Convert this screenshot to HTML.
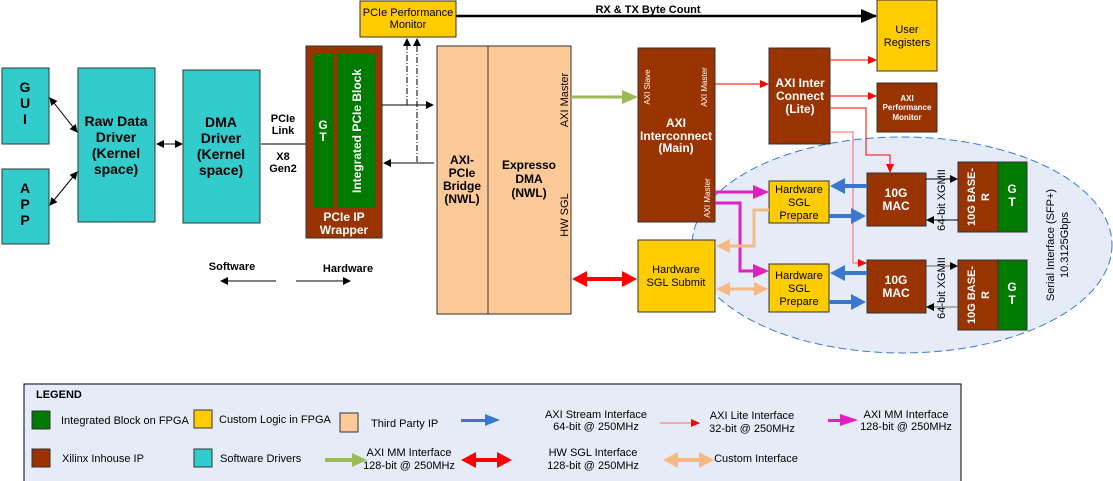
<!DOCTYPE html>
<html><head><meta charset="utf-8"><style>
html,body{margin:0;padding:0;background:#fff;}
svg{display:block;font-family:"Liberation Sans",Arial,sans-serif;}
</style></head><body>
<svg width="1113" height="481" viewBox="0 0 1113 481" xmlns="http://www.w3.org/2000/svg">
<defs>
<marker id="ak" markerWidth="8" markerHeight="8" refX="7" refY="4" orient="auto" markerUnits="userSpaceOnUse"><path d="M0,0 L8,4 L0,8 z" fill="#000"/></marker>
<marker id="aks" markerWidth="8" markerHeight="8" refX="1" refY="4" orient="auto" markerUnits="userSpaceOnUse"><path d="M8,0 L0,4 L8,8 z" fill="#000"/></marker>
<marker id="akb" markerWidth="16" markerHeight="14" refX="15" refY="7" orient="auto" markerUnits="userSpaceOnUse"><path d="M0,0 L16,7 L0,14 z" fill="#000"/></marker>
<marker id="ar" markerWidth="9" markerHeight="8" refX="8" refY="4" orient="auto" markerUnits="userSpaceOnUse"><path d="M0,0 L9,4 L0,8 z" fill="#f00"/></marker>
</defs>

<ellipse cx="902" cy="245" rx="210" ry="108" fill="#e6ecf7" stroke="#3a78d8" stroke-dasharray="8,4" stroke-width="1"/>

<g stroke="#333" fill="#33cccc">
<rect x="2" y="68" width="47" height="76"/>
<rect x="2" y="169" width="47" height="75"/>
<rect x="78" y="68" width="77" height="154"/>
<rect x="183" y="70" width="77" height="153"/>
</g>
<g font-weight="bold" font-size="14" fill="#000" text-anchor="middle">
<text x="25" y="92">G</text><text x="25" y="108">U</text><text x="25" y="124">I</text>
<text x="25" y="193">A</text><text x="25" y="209">P</text><text x="25" y="225">P</text>
<text x="116" y="126">Raw Data</text><text x="116" y="142">Driver</text><text x="116" y="158">(Kernel</text><text x="116" y="174">space)</text>
<text x="221" y="127">DMA</text><text x="221" y="143">Driver</text><text x="221" y="159">(Kernel</text><text x="221" y="175">space)</text>
</g>
<g stroke="#000" stroke-width="1" fill="none">
<line x1="50" y1="98" x2="77" y2="132" marker-start="url(#aks)" marker-end="url(#ak)"/>
<line x1="50" y1="205" x2="77" y2="172" marker-start="url(#aks)" marker-end="url(#ak)"/>
<line x1="157" y1="144" x2="182" y2="144" marker-start="url(#aks)" marker-end="url(#ak)"/>
<line x1="261" y1="144" x2="306" y2="144"/>
</g>
<g font-weight="bold" font-size="11" text-anchor="middle">
<text x="283" y="122">PCIe</text><text x="283" y="134">Link</text>
<text x="283" y="160">X8</text><text x="283" y="172">Gen2</text>
<text x="232" y="270">Software</text><text x="348" y="272">Hardware</text>
</g>
<line x1="276" y1="281" x2="221" y2="281" stroke="#000" marker-end="url(#ak)"/>
<line x1="296" y1="281" x2="350" y2="281" stroke="#000" marker-end="url(#ak)"/>

<rect x="306" y="46" width="76" height="192" fill="#993300" stroke="#333"/>
<rect x="313" y="54" width="20" height="154" fill="#007a00"/>
<rect x="337" y="54" width="39" height="154" fill="#007a00"/>
<g fill="#fff" font-weight="bold" font-size="12" text-anchor="middle">
<text x="323" y="129">G</text><text x="323" y="141">T</text>
<text x="344" y="221">PCIe IP</text><text x="344" y="234">Wrapper</text>
<text transform="translate(361,131) rotate(-90)" font-size="12">Integrated PCIe Block</text>
</g>

<rect x="360" y="1" width="96" height="36" fill="#ffcc00" stroke="#333"/>
<text x="408" y="16" font-size="11" text-anchor="middle">PCIe Performance</text>
<text x="408" y="28" font-size="11" text-anchor="middle">Monitor</text>
<g stroke="#000" stroke-dasharray="6,2,1,2" fill="none">
<line x1="407" y1="105" x2="407" y2="39" marker-end="url(#ak)"/>
<line x1="417" y1="162" x2="417" y2="39" marker-end="url(#ak)"/>
</g>
<line x1="382" y1="105" x2="433" y2="105" stroke="#000" marker-end="url(#ak)"/>
<line x1="434" y1="163" x2="384" y2="163" stroke="#000" marker-end="url(#ak)"/>
<line x1="456" y1="16" x2="876" y2="16" stroke="#000" stroke-width="2.5" marker-end="url(#akb)"/>
<text x="648" y="13" font-size="11" font-weight="bold" text-anchor="middle">RX &amp; TX Byte Count</text>

<rect x="437" y="46" width="51" height="268" fill="#fcc998" stroke="#333"/>
<rect x="488" y="46" width="83" height="268" fill="#fcc998" stroke="#333"/>
<g font-weight="bold" font-size="12" text-anchor="middle">
<text x="462" y="164">AXI-</text><text x="462" y="177">PCIe</text><text x="462" y="190">Bridge</text><text x="462" y="203">(NWL)</text>
<text x="529" y="169">Expresso</text><text x="529" y="183">DMA</text><text x="529" y="197">(NWL)</text>
</g>
<text transform="translate(568,100) rotate(-90)" font-size="11" text-anchor="middle">AXI Master</text>
<text transform="translate(568,215) rotate(-90)" font-size="11" text-anchor="middle">HW SGL</text>

<line x1="571" y1="97" x2="624" y2="97" stroke="#9bbb59" stroke-width="3"/>
<path d="M622,90 L638,97 L622,104 z" fill="#9bbb59"/>

<rect x="638" y="48" width="77" height="174" fill="#993300" stroke="#333"/>
<g fill="#fff" text-anchor="middle">
<text x="676" y="127" font-size="12" font-weight="bold">AXI</text>
<text x="676" y="140" font-size="12" font-weight="bold">Interconnect</text>
<text x="676" y="152" font-size="12" font-weight="bold">(Main)</text>
<text transform="translate(650,87) rotate(-90)" font-size="8" text-anchor="middle">AXI Slave</text>
<text transform="translate(707,87) rotate(-90)" font-size="8" text-anchor="middle">AXI Master</text>
<text transform="translate(710,198) rotate(-90)" font-size="8" text-anchor="middle">AXI Master</text>
</g>

<rect x="877" y="0" width="60" height="71" fill="#ffcc00" stroke="#333"/>
<text x="907" y="33" font-size="11" text-anchor="middle">User</text>
<text x="907" y="46" font-size="11" text-anchor="middle">Registers</text>
<rect x="769" y="48" width="61" height="96" fill="#993300" stroke="#333"/>
<g fill="#fff" font-weight="bold" font-size="12" text-anchor="middle">
<text x="800" y="87">AXI Inter</text><text x="800" y="100">Connect</text><text x="800" y="113">(Lite)</text>
</g>
<rect x="877" y="83" width="60" height="49" fill="#993300" stroke="#333"/>
<g fill="#fff" font-weight="bold" font-size="8" text-anchor="middle">
<text x="907" y="101">AXI</text><text x="907" y="110">Performance</text><text x="907" y="120">Monitor</text>
</g>
<g stroke="#f00" fill="none" stroke-width="1">
<line x1="715" y1="84" x2="768" y2="84" marker-end="url(#ar)"/>
<line x1="830" y1="60" x2="876" y2="60" marker-end="url(#ar)"/>
<line x1="830" y1="96" x2="876" y2="96" marker-end="url(#ar)"/>
<polyline points="830,108 866,108 866,155 890,155 890,172" marker-end="url(#ar)"/>
<polyline points="830,132 853,132 853,263 866,263" stroke="#f66" marker-end="url(#ar)"/>
</g>

<g stroke="#333">
<rect x="769" y="181" width="60" height="42" fill="#ffcc00"/>
<rect x="769" y="264" width="60" height="48" fill="#ffcc00"/>
<rect x="867" y="173" width="59" height="53" fill="#993300"/>
<rect x="867" y="260" width="59" height="53" fill="#993300"/>
<rect x="958" y="162" width="40" height="70" fill="#993300"/>
<rect x="998" y="162" width="29" height="70" fill="#007a00"/>
<rect x="958" y="260" width="40" height="70" fill="#993300"/>
<rect x="998" y="260" width="29" height="70" fill="#007a00"/>
<rect x="638" y="240" width="77" height="72" fill="#ffcc00"/>
</g>
<g font-size="11" text-anchor="middle">
<text x="799" y="193">Hardware</text><text x="799" y="206">SGL</text><text x="799" y="219">Prepare</text>
<text x="799" y="279">Hardware</text><text x="799" y="292">SGL</text><text x="799" y="305">Prepare</text>
<text x="676" y="273">Hardware</text><text x="676" y="286">SGL Submit</text>
</g>
<g fill="#fff" font-weight="bold" font-size="12" text-anchor="middle">
<text x="896" y="197">10G</text><text x="896" y="210">MAC</text>
<text x="896" y="284">10G</text><text x="896" y="297">MAC</text>
<text x="1012" y="193">G</text><text x="1012" y="206">T</text>
<text x="1012" y="291">G</text><text x="1012" y="304">T</text>
<text transform="translate(975,197) rotate(-90)" font-size="11">10G BASE-</text>
<text transform="translate(989,197) rotate(-90)" font-size="11">R</text>
<text transform="translate(975,295) rotate(-90)" font-size="11">10G BASE-</text>
<text transform="translate(989,295) rotate(-90)" font-size="11">R</text>
</g>
<g stroke="#000" fill="none">
<line x1="926" y1="179" x2="957" y2="179" marker-end="url(#ak)"/>
<line x1="958" y1="220" x2="927" y2="220" marker-end="url(#ak)"/>
<line x1="926" y1="266" x2="957" y2="266" stroke="#666" marker-end="url(#ak)"/>
<line x1="958" y1="307" x2="927" y2="307" stroke="#666" marker-end="url(#ak)"/>
</g>
<text transform="translate(945,200) rotate(-90)" font-size="11" text-anchor="middle">64-bit XGMII</text>
<text transform="translate(945,288) rotate(-90)" font-size="11" text-anchor="middle">64-bit XGMII</text>
<text transform="translate(1054,245) rotate(-90)" font-size="11" text-anchor="middle">Serial Interface (SFP+)</text>
<text transform="translate(1068,245) rotate(-90)" font-size="11" text-anchor="middle">10.3125Gbps</text>

<g fill="#3a78d0">
<rect x="843" y="184" width="24" height="4"/><path d="M845,178 L830,186 L845,194 z"/>
<rect x="829" y="214" width="24" height="4"/><path d="M851,208 L866,216 L851,224 z"/>
<rect x="843" y="271" width="24" height="4"/><path d="M845,265 L830,273 L845,281 z"/>
<rect x="829" y="300" width="24" height="4"/><path d="M851,294 L866,302 L851,310 z"/>
</g>
<g fill="none" stroke="#e020c0" stroke-width="3">
<line x1="715" y1="192" x2="755" y2="192"/>
<polyline points="715,203 740,203 740,271 755,271"/>
</g>
<g fill="#e020c0">
<path d="M753,185 L769,192 L753,199 z"/>
<path d="M753,264 L769,271 L753,278 z"/>
</g>
<g fill="none" stroke="#f8b884" stroke-width="3">
<polyline points="769,210 754,210 754,246 728,246"/>
<line x1="729" y1="289" x2="756" y2="289"/>
</g>
<g fill="#f8b884">
<path d="M730,239 L716,246 L730,253 z"/>
<path d="M730,282 L716,289 L730,296 z"/>
<path d="M754,282 L768,289 L754,296 z"/>
</g>
<line x1="585" y1="279" x2="624" y2="279" stroke="#f00" stroke-width="4"/>
<path d="M587,271 L572,279 L587,287 z M622,271 L637,279 L622,287 z" fill="#f00"/>

<rect x="24" y="384" width="937" height="100" fill="#e6ecf7" stroke="#000"/>
<text x="36" y="398" font-size="11" font-weight="bold">LEGEND</text>
<g stroke="#333">
<rect x="32" y="411" width="18" height="18" fill="#007a00"/>
<rect x="32" y="449" width="18" height="18" fill="#993300"/>
<rect x="194" y="410" width="18" height="18" fill="#ffcc00"/>
<rect x="194" y="449" width="18" height="18" fill="#33cccc"/>
<rect x="340" y="413" width="18" height="19" fill="#fcc998"/>
</g>
<g font-size="11">
<text x="61" y="424">Integrated Block on FPGA</text>
<text x="62" y="462">Xilinx Inhouse IP</text>
<text x="219" y="423">Custom Logic in FPGA</text>
<text x="220" y="462">Software Drivers</text>
<text x="371" y="427">Third Party IP</text>
</g>
<g font-size="11" text-anchor="middle">
<text x="596" y="418">AXI Stream Interface</text><text x="596" y="430">64-bit @ 250MHz</text>
<text x="752" y="419">AXI Lite  Interface</text><text x="752" y="432">32-bit @ 250MHz</text>
<text x="906" y="418">AXI MM Interface</text><text x="906" y="430">128-bit @ 250MHz</text>
<text x="409" y="456">AXI MM Interface</text><text x="409" y="469">128-bit @ 250MHz</text>
<text x="593" y="456">HW SGL Interface</text><text x="593" y="469">128-bit @ 250MHz</text>
<text x="756" y="462">Custom  Interface</text>
</g>
<rect x="461" y="419" width="26" height="3" fill="#3a78d0"/><path d="M485,414 L500,420 L485,426 z" fill="#3a78d0"/>
<line x1="660" y1="423" x2="699" y2="423" stroke="#f66" marker-end="url(#ar)"/>
<rect x="828" y="419" width="16" height="3" fill="#e020c0"/><path d="M840,414 L858,420 L840,426 z" fill="#e020c0"/>
<rect x="325" y="458" width="30" height="4" fill="#9bbb59"/><path d="M352,453 L367,460 L352,467 z" fill="#9bbb59"/>
<rect x="474" y="458" width="25" height="4" fill="#f00"/><path d="M476,452 L461,460 L476,468 z M497,452 L512,460 L497,468 z" fill="#f00"/>
<rect x="676" y="458" width="25" height="4" fill="#f8b884"/><path d="M678,452 L663,460 L678,468 z M699,452 L714,460 L699,468 z" fill="#f8b884"/>
</svg>
</body></html>
